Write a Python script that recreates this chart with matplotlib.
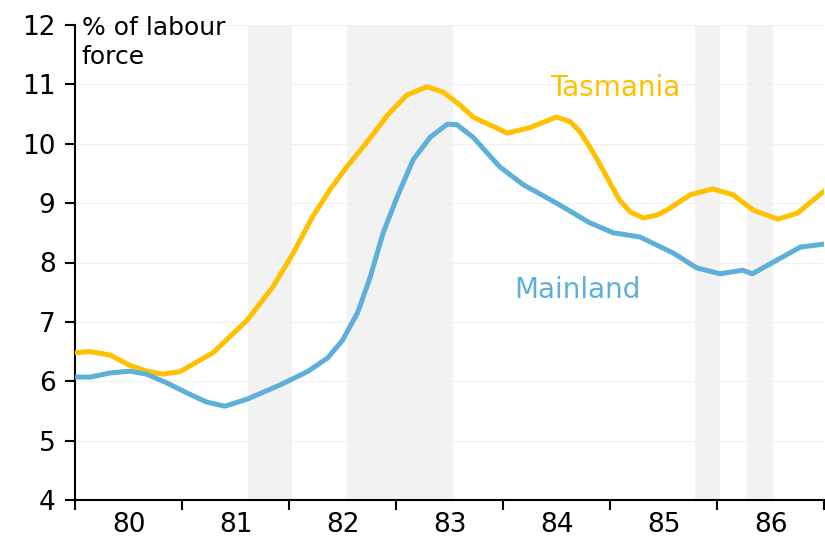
import matplotlib
matplotlib.use('Agg')
import matplotlib.pyplot as plt

# Unemployment rate, % of labour force (decimal years)
tas_x = [1980.00, 1980.14, 1980.33, 1980.51, 1980.67, 1980.82, 1980.98, 1981.29,
         1981.61, 1981.85, 1982.04, 1982.22, 1982.38, 1982.54, 1982.73, 1982.92,
         1983.10, 1983.29, 1983.44, 1983.60, 1983.72, 1984.04, 1984.25, 1984.50,
         1984.63, 1984.72, 1984.81, 1984.91, 1985.00, 1985.09, 1985.19, 1985.31,
         1985.44, 1985.53, 1985.75, 1985.96, 1986.15, 1986.34, 1986.57, 1986.75,
         1987.00]
tas_y = [6.48, 6.50, 6.44, 6.27, 6.17, 6.12, 6.16, 6.48,
         7.03, 7.59, 8.16, 8.77, 9.22, 9.61, 10.03, 10.48,
         10.82, 10.96, 10.87, 10.65, 10.45, 10.18, 10.27, 10.45,
         10.37, 10.20, 9.95, 9.64, 9.34, 9.05, 8.85, 8.75,
         8.80, 8.88, 9.14, 9.24, 9.14, 8.88, 8.73, 8.83,
         9.20]

main_x = [1980.00, 1980.14, 1980.33, 1980.51, 1980.67, 1980.86, 1981.05, 1981.23,
          1981.40, 1981.61, 1981.92, 1982.17, 1982.36, 1982.50, 1982.64, 1982.76,
          1982.88, 1983.01, 1983.16, 1983.32, 1983.48, 1983.57, 1983.72, 1983.97,
          1984.19, 1984.50, 1984.81, 1985.03, 1985.28, 1985.59, 1985.81, 1986.03,
          1986.24, 1986.33, 1986.56, 1986.78, 1987.00]
main_y = [6.07, 6.07, 6.14, 6.17, 6.12, 5.97, 5.80, 5.65,
          5.58, 5.70, 5.94, 6.16, 6.39, 6.69, 7.15, 7.76,
          8.50, 9.10, 9.73, 10.11, 10.33, 10.32, 10.11, 9.61,
          9.31, 9.00, 8.67, 8.50, 8.43, 8.16, 7.91, 7.81,
          7.87, 7.81, 8.04, 8.26, 8.31]

# shaded periods
shade_start = [1981.62, 1982.54, 1985.79, 1986.28]
shade_end = [1982.03, 1983.53, 1986.03, 1986.52]

years = [1980, 1981, 1982, 1983, 1984, 1985, 1986]
year_labels = ['80', '81', '82', '83', '84', '85', '86']

tas_color = '#FFC000'
main_color = '#5EB0D9'

plt.rcParams['font.family'] = 'DejaVu Sans'

fig = plt.figure(figsize=(8.25, 5.5), dpi=100)
ax = fig.add_axes([75 / 825, 50 / 550, 749 / 825, 475 / 550])

for s, e in zip(shade_start, shade_end):
    ax.axvspan(s, e, color='#F2F2F2', lw=0, zorder=0)

for v in range(5, 13):
    ax.axhline(v, color='#F0F0F0', lw=0.8, zorder=0.5)

ax.plot(tas_x, tas_y, color=tas_color, lw=3.6, solid_joinstyle='round', zorder=3)
ax.plot(main_x, main_y, color=main_color, lw=3.6, solid_joinstyle='round', zorder=3)

ax.text(1985.05, 10.94, 'Tasmania', color=tas_color, fontsize=20, ha='center', va='center')
ax.text(1984.70, 7.54, 'Mainland', color=main_color, fontsize=20, ha='center', va='center')

ax.set_xlim(1980, 1987)
ax.set_ylim(4, 12)
ax.set_yticks(range(4, 13))
ax.set_xticks(range(1980, 1988))
ax.set_xticklabels([])
ax.set_xticks([y + 0.5 for y in years], minor=True)
ax.set_xticklabels(year_labels, minor=True)
ax.tick_params(axis='x', which='minor', length=0, labelsize=19, pad=9)
ax.tick_params(axis='x', which='major', length=7, width=1.5, direction='out')
ax.tick_params(axis='y', length=7, width=1.5, direction='out', labelsize=19, pad=7)

for side in ['top', 'right']:
    ax.spines[side].set_visible(False)
for side in ['left', 'bottom']:
    ax.spines[side].set_linewidth(1.5)

ax.text(0.009, 1.018, '% of labour\nforce', transform=ax.transAxes, fontsize=18,
        ha='left', va='top', linespacing=1.25)

fig.savefig('out.png', dpi=100)
